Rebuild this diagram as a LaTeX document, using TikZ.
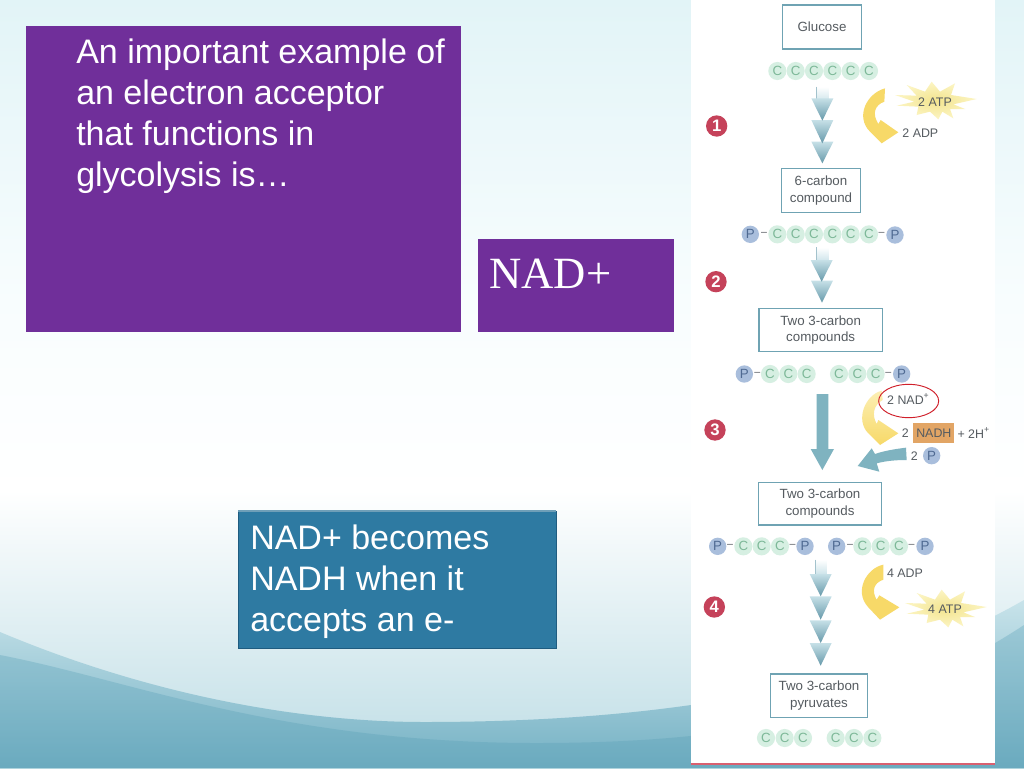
\documentclass[tikz,border=0pt]{standalone}
\usepackage{fontspec}
\setmainfont{Liberation Sans}
\newfontfamily\serifnad{Liberation Serif}
\usetikzlibrary{shapes.geometric}
\definecolor{purplebox}{HTML}{702F9A}
\definecolor{tealbox}{HTML}{2E7AA2}
\definecolor{tealedge}{HTML}{1F5C80}
\definecolor{tealtop}{HTML}{6F9FB8}
\definecolor{figtext}{HTML}{555B60}
\definecolor{boxedge}{HTML}{6FA3B3}
\definecolor{catomfill}{HTML}{D6EFE2}
\definecolor{catomtext}{HTML}{7DB898}
\definecolor{patomfill}{HTML}{A9BEDC}
\definecolor{patomtext}{HTML}{4F6A92}
\definecolor{badge}{HTML}{C5425A}
\definecolor{arrowteal}{HTML}{7FB3C0}
\definecolor{arrowlight}{HTML}{C6E0E7}
\definecolor{arrowdark}{HTML}{6699AA}
\definecolor{stemlow}{HTML}{C6E0E7}
\definecolor{crescent}{HTML}{F7D968}
\definecolor{crescentpale}{HTML}{FCEFB4}
\definecolor{starin}{HTML}{F3E48E}
\definecolor{starout}{HTML}{FCF5C4}
\definecolor{nadhfill}{HTML}{E2A565}
\definecolor{ringred}{HTML}{D01F2A}
\definecolor{bgtop}{HTML}{E2F4F7}
\definecolor{bgmid}{HTML}{F8FDFE}
\definecolor{bglow}{HTML}{BEDDE5}
\definecolor{wavetop}{HTML}{C8E3EA}
\definecolor{wavebot}{HTML}{74B1C4}
\definecolor{wavelow}{HTML}{5FA3B9}
\definecolor{panelline}{HTML}{D86070}
\tikzset{
  x=.75pt,y=-.75pt,
  figlabel/.style={font=\fontsize{9.3}{11}\selectfont,text=figtext,inner sep=0pt},
  boxlabel/.style={draw=boxedge,line width=.9pt,fill=white,align=center,inner sep=0pt,
    text=figtext,font=\fontsize{10}{12.6}\selectfont},
  catom/.style={circle,fill=catomfill,text=catomtext,inner sep=0pt,minimum size=13.6pt,
    font=\fontsize{10}{10}\selectfont},
  patom/.style={circle,fill=patomfill,text=patomtext,inner sep=0pt,minimum size=13pt,
    font=\fontsize{10}{10}\selectfont},
  dashmark/.style={text=figtext,inner sep=0pt,font=\fontsize{8}{8}\selectfont},
  numbadge/.style={circle,fill=badge,text=white,inner sep=0pt,minimum size=16pt,
    font=\bfseries\fontsize{12.5}{12.5}\selectfont},
  zoomframe/.style={x=.25pt,y=-.25pt},
  slidetext/.style={text=white,align=left,anchor=north west,inner sep=0pt,
    font=\fontsize{25.5}{30.75}\selectfont},
}
\newcommand{\figbox}[5]{\node[boxlabel,minimum width=#3*.25pt,minimum height=#4*.25pt] (#1) at #2 {#5};}
\newcommand{\funnel}[3]{\shade[top color=arrowlight,bottom color=arrowdark] (#1-33,#2) -- (#1+33,#2) -- (#1,#3) -- cycle;}
\newcommand{\figstem}[3]{\shade[top color=white,bottom color=stemlow] (#1-17,#2) rectangle (#1+18,#3);
  \draw[arrowdark!60,line width=.4pt] (#1-17,#2) -- (#1-17,#3);}
\newcommand{\starburst}[1]{\shade[inner color=starin,outer color=starout,shift={#1}]
  (-120,-20) -- (-55,-18) -- (-85,-50) -- (-30,-30) -- (-10,-60) -- (15,-30) -- (60,-55) -- (48,-20)
  -- (125,-8) -- (55,8) -- (90,22) -- (45,22) -- (55,50) -- (22,30) -- (10,53) -- (-15,30)
  -- (-55,40) -- (-50,15) -- (-115,12) -- (-62,0) -- cycle;}
\begin{document}
\begin{tikzpicture}
\useasboundingbox (0,0) rectangle (1024,768);
% background
\shade[top color=bgtop,bottom color=bgmid] (0,0) rectangle (1024,300);
\shade[top color=bgmid,bottom color=white] (0,300) rectangle (1024,490);
\shade[top color=white,bottom color=bglow] (0,490) rectangle (1024,768);
\shade[top color=wavetop,bottom color=wavebot] (0,632) .. controls (150,695) and (300,722) .. (424,722)
  .. controls (620,722) and (850,700) .. (1024,600) -- (1024,768) -- (0,768) -- cycle;
\shade[top color=wavebot,bottom color=wavelow,opacity=.45] (0,655) .. controls (130,680) and (280,743) .. (536,743)
  .. controls (720,743) and (880,720) .. (1024,625) -- (1024,768) -- (0,768) -- cycle;
% slide boxes
\fill[purplebox] (26,26) rectangle (461,332);
\fill[purplebox] (478,239) rectangle (674,332);
\fill[tealbox] (238,511) rectangle (556,648);
\draw[tealedge,line width=.7pt] (238,511) rectangle (556,648);
\draw[tealtop,line width=.9pt] (238,511) -- (556,511);
\node[slidetext] (question) at (76,39) {An important example of\\an electron acceptor\\that functions in\\glycolysis is…};
\node[text=white,anchor=base west,inner sep=0pt,font=\serifnad\fontsize{33.5}{36}\selectfont] (answer) at (489,288) {NAD+};
\node[slidetext] (note) at (250,525) {NAD+ becomes\\NADH when it\\accepts an e-};
% figure panel
\fill[white] (691,0) rectangle (995,764);
\fill[panelline] (691,763) rectangle (995,765);
%
\begin{scope}[shift={(690,0)},zoomframe]
\figbox{glucose}{(396,81)}{238}{132}{Glucose}
\foreach \i/\x in {1/262,2/317,3/372,4/427,5/482,6/537} \node[catom] (ga\i) at (\x,213) {C};
\figstem{397}{260}{312}
\funnel{397}{425}{490}
\funnel{397}{360}{430}
\funnel{397}{295}{362}
\node[numbadge] (one) at (80,378) {1};
\starburst{(735,305)}
\fill[crescent] (585,265) .. controls (530,280) and (495,350) .. (540,395) -- (575,430) -- (625,397) -- (572,360) -- (565,372) .. controls (545,340) and (555,315) .. (583,305) -- cycle;
\node[figlabel] (atpa) at (735,306) {2 ATP};
\node[figlabel] (adpa) at (691,401) {2 ADP};
\figbox{six}{(393,571)}{237}{132}{6-carbon\\compound}
\node[patom] (sp1) at (181,703) {P};
\node[dashmark] (sd1) at (222,702) {–};
\foreach \i/\x in {1/262,2/317,3/372,4/427,5/482,6/537} \node[catom] (sa\i) at (\x,703) {C};
\node[dashmark] (sd2) at (575,702) {–};
\node[patom] (sp2) at (615,705) {P};
\end{scope}
%
\begin{scope}[shift={(690,250)},zoomframe]
\figstem{397}{-8}{40}
\funnel{396}{92}{158}
\funnel{395}{30}{95}
\node[numbadge] (two) at (78,95) {2};
\figbox{threea}{(392,240)}{370}{130}{Two 3-carbon\\compounds}
\node[patom] (tp1) at (163,372) {P};
\node[dashmark] (td1) at (202,371) {–};
\foreach \i/\x in {1/240,2/295,3/350,4/447,5/502,6/557} \node[catom] (ta\i) at (\x,372) {C};
\node[dashmark] (td2) at (595,371) {–};
\node[patom] (tp2) at (635,372) {P};
\node[numbadge] (three) at (75,540) {3};
\fill[arrowteal] (380,432) -- (415,432) -- (415,597) -- (432,597) -- (397,660) -- (362,597) -- (380,597) -- cycle;
\shade[top color=crescentpale,bottom color=crescent] (575,422) .. controls (525,435) and (495,510) .. (535,550) -- (570,585) -- (625,550) -- (565,510) -- (560,522) .. controls (545,495) and (550,465) .. (578,450) -- cycle;
\node[figlabel] (nad) at (655,447) {2 NAD\textsuperscript{+}};
\draw[ringred,line width=.7pt] (656,453) ellipse [x radius=90,y radius=50];
\node[figlabel] (two-n) at (646,550) {2};
\node[draw=none,fill=nadhfill,text=figtext,inner sep=0pt,minimum width=30.75pt,minimum height=15.5pt,font=\fontsize{9.3}{9.3}\selectfont] (nadh) at (731.5,549) {NADH};
\node[figlabel] (hplus) at (851,549) {+ 2H\textsuperscript{+}};
\node[figlabel] (two-p) at (673,618) {2};
\node[patom] (pfree) at (725,617) {P};
\fill[arrowteal] (648,593) .. controls (615,597) and (580,603) .. (555,612) -- (545,595) -- (503,648) -- (568,665) -- (560,640) .. controls (590,632) and (620,630) .. (650,630) -- cycle;
\figbox{threeb}{(390,761)}{370}{128}{Two 3-carbon\\compounds}
\end{scope}
%
\begin{scope}[shift={(690,508)},zoomframe]
\node[patom] (up1) at (83,115) {P};
\node[dashmark] (ud1) at (120,114) {–};
\foreach \i/\x in {1/160,2/215,3/270} \node[catom] (ua\i) at (\x,115) {C};
\node[dashmark] (ud2) at (308,114) {–};
\node[patom] (up2) at (345,115) {P};
\node[patom] (up3) at (440,115) {P};
\node[dashmark] (ud3) at (480,114) {–};
\foreach \i/\x in {4/517,5/572,6/627} \node[catom] (ua\i) at (\x,115) {C};
\node[dashmark] (ud4) at (665,114) {–};
\node[patom] (up4) at (705,115) {P};
\figstem{392}{155}{205}
\funnel{392}{405}{473}
\funnel{392}{337}{405}
\funnel{392}{265}{335}
\funnel{392}{198}{265}
\node[numbadge] (four) at (73,297) {4};
\starburst{(765,305)}
\fill[crescent] (580,170) .. controls (530,180) and (490,250) .. (535,298) -- (570,335) -- (628,298) -- (568,262) -- (560,275) .. controls (545,250) and (550,225) .. (580,215) -- cycle;
\node[figlabel] (adpb) at (645,195) {4 ADP};
\node[figlabel] (atpb) at (765,305) {4 ATP};
\figbox{pyr}{(387,563)}{291}{130}{Two 3-carbon\\pyruvates}
\foreach \i/\x in {1/228,2/284,3/339,4/437,5/492,6/547} \node[catom] (va\i) at (\x,690) {C};
\end{scope}
\end{tikzpicture}
\end{document}
